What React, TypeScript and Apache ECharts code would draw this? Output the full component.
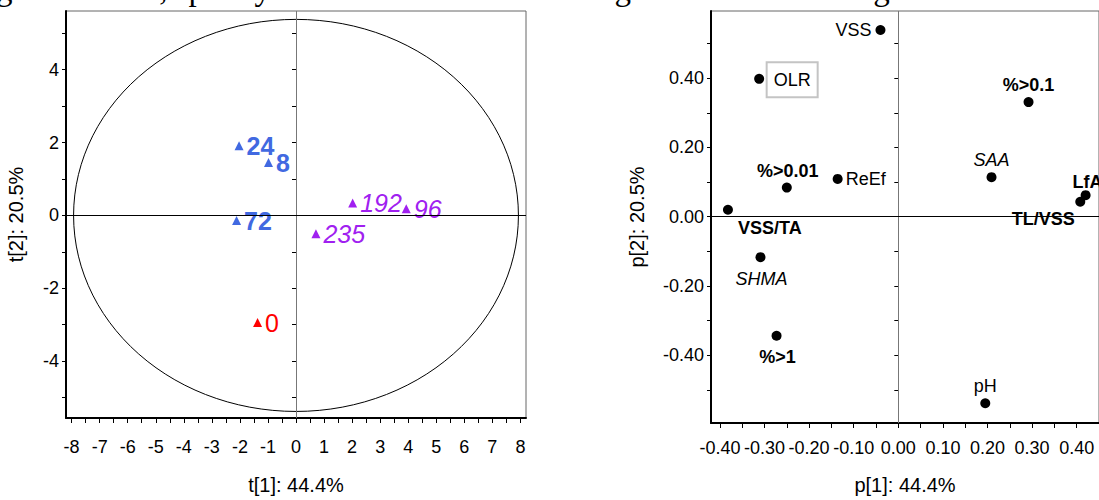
import React, { useEffect, useRef } from "react";
import * as echarts from "echarts";

// ---------- Score plot (t[1] vs t[2]) ----------
const scoreNames = ["24", "8", "72", "0", "192", "96", "235"];
const scoreT1 = [-2.03, -0.98, -2.12, -1.37, 2.02, 3.93, 0.71];
const scoreT2 = [1.91, 1.45, -0.14, -2.94, 0.34, 0.18, -0.5];
const scoreGroup = ["A", "A", "A", "B", "C", "C", "C"];

// Hotelling T2 ellipse semi-axes
const ellipseA = 7.93;
const ellipseB = 5.38;

const t1TickLabels = [-8, -7, -6, -5, -4, -3, -2, -1, 0, 1, 2, 3, 4, 5, 6, 7, 8];
const t1Ticks = [
  -8, -7.5, -7, -6.5, -6, -5.5, -5, -4.5, -4, -3.5, -3, -2.5, -2, -1.5, -1, -0.5, 0,
  0.5, 1, 1.5, 2, 2.5, 3, 3.5, 4, 4.5, 5, 5.5, 6, 6.5, 7, 7.5, 8,
];
const t2TickLabels = [-4, -2, 0, 2, 4];
const t2Ticks = [-5, -4, -3, -2, -1, 0, 1, 2, 3, 4, 5];

// ---------- Loading plot (p[1] vs p[2]) ----------
const loadingNames = ["VSS", "OLR", "%>0.01", "ReEf", "VSS/TA", "SHMA", "%>1", "%>0.1", "SAA", "LfA", "TL/VSS", "pH"];
const loadingP1 = [-0.04, -0.312, -0.25, -0.136, -0.382, -0.309, -0.273, 0.292, 0.209, 0.42, 0.408, 0.195];
const loadingP2 = [0.539, 0.398, 0.084, 0.109, 0.02, -0.117, -0.344, 0.331, 0.114, 0.062, 0.043, -0.539];

const p1TickLabels = [-0.4, -0.3, -0.2, -0.1, 0, 0.1, 0.2, 0.3, 0.4];
const p1Ticks = [-0.4, -0.35, -0.3, -0.25, -0.2, -0.15, -0.1, -0.05, 0, 0.05, 0.1, 0.15, 0.2, 0.25, 0.3, 0.35, 0.4, 0.45];
const p2TickLabels = [-0.4, -0.2, 0, 0.2, 0.4];
const p2Ticks = [-0.5, -0.4, -0.3, -0.2, -0.1, 0, 0.1, 0.2, 0.3, 0.4, 0.5];

const headerText = "g slow Load, specify the direction of second highest variance in organic slow load";

// ---------- styles ----------
const FONT = "Liberation Sans";
const groupColor: Record<string, string> = { A: "#4169E1", B: "#FF0000", C: "#A020F0" };
const groupFontWeight: Record<string, string> = { A: "bold", B: "normal", C: "normal" };
const groupFontStyle: Record<string, string> = { A: "normal", B: "normal", C: "italic" };

// label centre offset from dot (px), font weight/style
const loadingLabelStyle: Record<string, { dx: number; dy: number; w?: string; s?: string; align?: string; box?: boolean }> = {
  VSS: { dx: -27, dy: 0 },
  OLR: { dx: 33, dy: 1, box: true },
  "%>0.01": { dx: 1, dy: -17, w: "bold" },
  ReEf: { dx: 28, dy: 0 },
  "VSS/TA": { dx: 42, dy: 18, w: "bold" },
  SHMA: { dx: 1, dy: 22, s: "italic" },
  "%>1": { dx: 1, dy: 21, w: "bold" },
  "%>0.1": { dx: 0, dy: -17, w: "bold" },
  SAA: { dx: 0, dy: -17, s: "italic" },
  LfA: { dx: -13, dy: -13, w: "bold", align: "left" },
  "TL/VSS": { dx: -37, dy: 17, w: "bold" },
  pH: { dx: 0, dy: -17 },
};

function buildOption() {
  const ellipse: number[][] = [];
  const N = 120;
  for (let i = 0; i <= N; i++) {
    const a = (i / N) * Math.PI * 2;
    ellipse.push([ellipseA * Math.cos(a), ellipseB * Math.sin(a)]);
  }

  const scoreData = scoreNames.map((n, i) => {
    const g = scoreGroup[i];
    return {
      name: n,
      value: [scoreT1[i], scoreT2[i]],
      itemStyle: { color: groupColor[g], opacity: 1 },
      label: {
        show: true,
        formatter: n,
        position: "right",
        distance: 3,
        color: groupColor[g],
        fontSize: 25,
        fontFamily: FONT,
        fontWeight: groupFontWeight[g],
        fontStyle: groupFontStyle[g],
      },
    };
  });

  const loadingData = loadingNames.map((n, i) => {
    const st = loadingLabelStyle[n];
    const label: any = {
      show: true,
      formatter: n,
      position: [5 + st.dx, 5 + st.dy],
      align: st.align || "center",
      verticalAlign: "middle",
      color: "#000",
      fontSize: 18,
      fontFamily: FONT,
      fontWeight: st.w || "normal",
      fontStyle: st.s || "normal",
    };
    if (st.box) {
      label.backgroundColor = "#fff";
      label.borderColor = "#c4c4c4";
      label.borderWidth = 2;
      label.padding = [8, 6, 7, 6];
    }
    return { name: n, value: [loadingP1[i], loadingP2[i]], label };
  });

  const zeroLines = {
    silent: true,
    symbol: ["none", "none"],
    label: { show: false },
    animation: false,
    data: [
      { xAxis: 0, lineStyle: { color: "#777", width: 1, type: "solid" } },
      { yAxis: 0, lineStyle: { color: "#000", width: 1, type: "solid" } },
    ],
  };

  const tickLabelStyle = { fontSize: 18, color: "#000", fontFamily: FONT };
  const nameStyle = { fontSize: 20, color: "#000", fontFamily: FONT };

  return {
    animation: false,
    backgroundColor: "#fff",
    graphic: [
      {
        type: "text",
        x: -4,
        y: -11.5,
        silent: true,
        style: {
          text: headerText,
          fontSize: 33,
          fontFamily: "Liberation Serif",
          fill: "#000",
          verticalAlign: "middle",
        },
      },
    ],
    grid: [
      { left: 66, top: 11, width: 460, height: 409, show: true, borderColor: "#666", borderWidth: 1 },
      { left: 711, top: 11, width: 392, height: 414, show: true, borderColor: "#666", borderWidth: 1 },
    ],
    xAxis: [
      {
        gridIndex: 0,
        type: "value",
        min: -8.2,
        max: 8.2,
        axisLine: { show: true, onZero: false, lineStyle: { color: "#000", width: 2 } },
        axisTick: { show: true, customValues: t1Ticks, length: 5, lineStyle: { color: "#000" } },
        axisLabel: { customValues: t1TickLabels, formatter: (v: number) => String(v), margin: 20, ...tickLabelStyle },
        splitLine: { show: false },
        name: "t[1]: 44.4%",
        nameLocation: "middle",
        nameGap: 57,
        nameTextStyle: nameStyle,
      },
      {
        gridIndex: 1,
        type: "value",
        min: -0.42,
        max: 0.45,
        axisLine: { show: true, onZero: false, lineStyle: { color: "#000", width: 2 } },
        axisTick: { show: true, customValues: p1Ticks, length: 5, lineStyle: { color: "#000" } },
        axisLabel: { customValues: p1TickLabels, formatter: (v: number) => v.toFixed(2), margin: 16, ...tickLabelStyle },
        splitLine: { show: false },
        name: "p[1]: 44.4%",
        nameLocation: "middle",
        nameGap: 52,
        nameTextStyle: nameStyle,
      },
    ],
    yAxis: [
      {
        gridIndex: 0,
        type: "value",
        min: -5.56,
        max: 5.61,
        axisLine: { show: true, onZero: false, lineStyle: { color: "#000", width: 2 } },
        axisTick: { show: true, customValues: t2Ticks, length: 4, lineStyle: { color: "#000" } },
        axisLabel: { customValues: t2TickLabels, formatter: (v: number) => String(v), margin: 7, ...tickLabelStyle },
        splitLine: { show: false },
        name: "t[2]: 20.5%",
        nameLocation: "middle",
        nameGap: 40,
        nameTextStyle: nameStyle,
      },
      {
        gridIndex: 1,
        type: "value",
        min: -0.596,
        max: 0.594,
        axisLine: { show: true, onZero: false, lineStyle: { color: "#000", width: 2 } },
        axisTick: { show: true, customValues: p2Ticks, length: 4, lineStyle: { color: "#000" } },
        axisLabel: { customValues: p2TickLabels, formatter: (v: number) => v.toFixed(2), margin: 7, ...tickLabelStyle },
        splitLine: { show: false },
        name: "p[2]: 20.5%",
        nameLocation: "middle",
        nameGap: 64,
        nameTextStyle: nameStyle,
      },
      {
        gridIndex: 0,
        type: "value",
        min: -5.56,
        max: 5.61,
        axisLine: { show: false },
        axisTick: { show: true, inside: true, customValues: t2Ticks, length: 4, lineStyle: { color: "#000" } },
        axisLabel: { show: false },
        splitLine: { show: false },
      },
      {
        gridIndex: 1,
        type: "value",
        min: -0.596,
        max: 0.594,
        axisLine: { show: false },
        axisTick: { show: true, inside: true, customValues: p2Ticks, length: 4, lineStyle: { color: "#000" } },
        axisLabel: { show: false },
        splitLine: { show: false },
      },
    ],
    series: [
      {
        name: "ellipse",
        type: "line",
        xAxisIndex: 0,
        yAxisIndex: 0,
        data: ellipse,
        showSymbol: false,
        symbol: "none",
        lineStyle: { color: "#000", width: 1 },
        silent: true,
        markLine: zeroLines,
        z: 1,
      },
      {
        name: "scores",
        type: "scatter",
        xAxisIndex: 0,
        yAxisIndex: 0,
        symbol: "triangle",
        symbolSize: 9,
        itemStyle: { opacity: 1 },
        data: scoreData,
        z: 3,
      },
      {
        name: "loadings",
        type: "scatter",
        xAxisIndex: 1,
        yAxisIndex: 1,
        symbol: "circle",
        symbolSize: 10,
        itemStyle: { color: "#000", opacity: 1 },
        data: loadingData,
        markLine: zeroLines,
        z: 3,
      },
    ],
  };
}

export default function App() {
  const ref = useRef<HTMLDivElement>(null);
  useEffect(() => {
    if (!ref.current) return;
    const chart = echarts.init(ref.current, undefined, { renderer: "svg" });
    chart.setOption(buildOption() as any);
    return () => chart.dispose();
  }, []);
  return (
    <div
      ref={ref}
      style={{ position: "absolute", left: 0, top: 0, width: 1099, height: 500, background: "#fff" }}
    />
  );
}
